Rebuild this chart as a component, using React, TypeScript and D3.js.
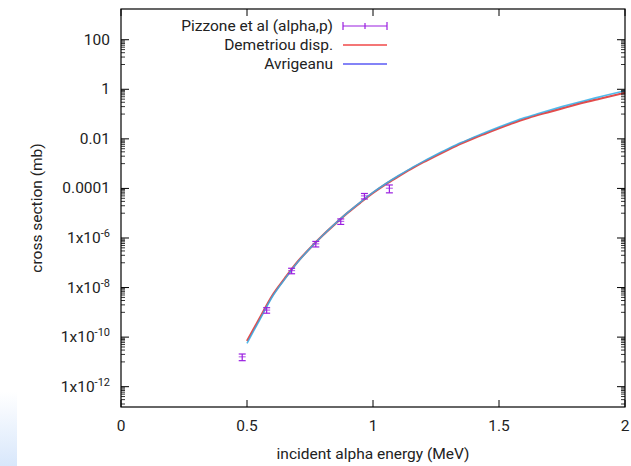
import React from "react";
import * as d3 from "d3";

// ---- data ----
const expEnergy = [0.481, 0.578, 0.677, 0.773, 0.872, 0.966, 1.065];
const expSigma = [1.6e-11, 1.23e-9, 4.8e-8, 5.8e-7, 4.7e-6, 5.0e-5, 1.02e-4];
const expErrFrac = [0.3, 0.25, 0.25, 0.25, 0.25, 0.25, 0.35];

const curveEnergy = [
  0.5, 0.55, 0.6, 0.65, 0.7, 0.75, 0.8, 0.85, 0.9, 0.95, 1.0, 1.05, 1.1, 1.15,
  1.2, 1.25, 1.3, 1.35, 1.4, 1.45, 1.5, 1.55, 1.6, 1.65, 1.7, 1.75, 1.8, 1.85,
  1.9, 1.95, 2.0,
];
// log10 of cross section (mb)
const avrigeanuLog = [
  -10.25, -9.31, -8.38, -7.66, -6.99, -6.42, -5.9, -5.42, -4.97, -4.55, -4.16,
  -3.81, -3.49, -3.19, -2.91, -2.64, -2.39, -2.15, -1.93, -1.72, -1.52, -1.33,
  -1.15, -0.995, -0.845, -0.7, -0.56, -0.43, -0.305, -0.18, -0.06,
];
const demetriouLog = [
  -10.16, -9.24, -8.33, -7.63, -6.97, -6.41, -5.9, -5.43, -4.98, -4.57, -4.18,
  -3.83, -3.52, -3.22, -2.94, -2.68, -2.43, -2.19, -1.97, -1.77, -1.57, -1.38,
  -1.21, -1.05, -0.91, -0.77, -0.63, -0.5, -0.38, -0.26, -0.14,
];

const xTicks = [0, 0.5, 1, 1.5, 2];
const yTickExps = [2, 0, -2, -4, -6, -8, -10, -12];
const yTickLabels = ["100", "1", "0.01", "0.0001", "1x10|-6", "1x10|-8", "1x10|-10", "1x10|-12"];

const legendLabels = ["Pizzone et al (alpha,p)", "Demetriou disp.", "Avrigeanu"];

const W = 631;
const H = 466;
const left = 121;
const right = 625;
const top = 9;
const bottom = 407;
const FONT = "Roboto, 'Noto Sans', sans-serif";
const FS = 15.5;
const PURPLE = "#9a1ee0";

export default function App() {
  const x = d3.scaleLinear().domain([0, 2]).range([left, right]);
  const y = d3.scaleLog().domain([Math.pow(10, -12.82), Math.pow(10, 3.24)]).range([bottom, top]);

  const line = d3
    .line<[number, number]>()
    .x((d) => x(d[0]))
    .y((d) => y(Math.pow(10, d[1])))
    .curve(d3.curveMonotoneX);

  const avr = curveEnergy.map((e, i) => [e, avrigeanuLog[i]] as [number, number]);
  const dem = curveEnergy.map((e, i) => [e, demetriouLog[i]] as [number, number]);

  // minor ticks: major * k/10
  const minor: number[] = [];
  yTickExps.forEach((ex) => {
    for (let k = 1; k <= 9; k++) {
      const v = (Math.pow(10, ex) * k) / 10;
      if (y(v) <= bottom && y(v) >= top) minor.push(v);
    }
  });

  return (
    <svg width={W} height={H} style={{ position: "fixed", left: 0, top: 0, background: "#fff" }}>
      <defs>
        <linearGradient id="bl" x1="0" y1="0" x2="0" y2="1">
          <stop offset="0" stopColor="#ffffff" />
          <stop offset="1" stopColor="#d8e7fb" />
        </linearGradient>
      </defs>
      <rect x={0} y={0} width={W} height={H} fill="#fff" />
      <rect x={0} y={392} width={17} height={74} fill="url(#bl)" />

      {/* curves */}
      <path d={line(dem) || ""} fill="none" stroke="#e03838" strokeWidth={2.2} strokeOpacity={0.9} />
      <path d={line(avr) || ""} fill="none" stroke="#35aee8" strokeWidth={1.6} strokeOpacity={0.85} />

      {/* data points with error bars */}
      {expEnergy.map((e, i) => {
        const cx = x(e);
        const s = expSigma[i];
        const y1 = y(s * (1 + expErrFrac[i]));
        const y0 = y(s * (1 - expErrFrac[i]));
        return (
          <g key={i} stroke={PURPLE} strokeWidth={1.2}>
            <line x1={cx} x2={cx} y1={y1} y2={y0} />
            <line x1={cx - 3.5} x2={cx + 3.5} y1={y1} y2={y1} />
            <line x1={cx - 3.5} x2={cx + 3.5} y1={y0} y2={y0} />
            <line x1={cx - 3.5} x2={cx + 3.5} y1={y(s)} y2={y(s)} strokeWidth={0.8} />
          </g>
        );
      })}

      {/* frame */}
      <rect x={left} y={top} width={right - left} height={bottom - top} fill="none" stroke="#000" strokeWidth={1.2} />

      {/* x ticks */}
      {xTicks.map((t) => (
        <g key={t}>
          <line x1={x(t)} x2={x(t)} y1={bottom} y2={bottom - 7} stroke="#000" />
          <line x1={x(t)} x2={x(t)} y1={top} y2={top + 7} stroke="#000" />
          <text x={x(t)} y={bottom + 24} textAnchor="middle" fontFamily={FONT} fontSize={FS} fill="#222">
            {String(t)}
          </text>
        </g>
      ))}

      {/* y ticks */}
      {yTickExps.map((ex, i) => {
        const yy = y(Math.pow(10, ex));
        const parts = yTickLabels[i].split("|");
        return (
          <g key={ex}>
            <line x1={left} x2={left + 8} y1={yy} y2={yy} stroke="#000" />
            <line x1={right} x2={right - 8} y1={yy} y2={yy} stroke="#000" />
            <text x={110} y={yy + 5} textAnchor="end" fontFamily={FONT} fontSize={FS} fill="#222">
              {parts.length === 1 ? (
                parts[0]
              ) : (
                <>
                  <tspan>{parts[0]}</tspan>
                  <tspan dy={-6} fontSize={11}>{parts[1]}</tspan>
                </>
              )}
            </text>
          </g>
        );
      })}
      {minor.map((v, i) => (
        <g key={"m" + i}>
          <line x1={left} x2={left + 4} y1={y(v)} y2={y(v)} stroke="#000" strokeWidth={0.8} />
          <line x1={right} x2={right - 4} y1={y(v)} y2={y(v)} stroke="#000" strokeWidth={0.8} />
        </g>
      ))}

      {/* axis titles */}
      <text x={373} y={459} textAnchor="middle" fontFamily={FONT} fontSize={FS} fill="#222">
        incident alpha energy (MeV)
      </text>
      <text
        transform={`translate(42, ${(top + bottom) / 2}) rotate(-90)`}
        textAnchor="middle"
        fontFamily={FONT}
        fontSize={FS}
        fill="#222"
      >
        cross section (mb)
      </text>

      {/* legend */}
      {legendLabels.map((lab, i) => {
        const ly = 26 + i * 19;
        return (
          <g key={lab}>
            <text x={333} y={ly + 5} textAnchor="end" fontFamily={FONT} fontSize={FS} fill="#222">
              {lab}
            </text>
            {i === 0 ? (
              <g stroke={PURPLE} strokeWidth={1.2}>
                <line x1={343} x2={387} y1={ly} y2={ly} />
                <line x1={343} x2={343} y1={ly - 4} y2={ly + 4} />
                <line x1={387} x2={387} y1={ly - 4} y2={ly + 4} />
                <line x1={365} x2={365} y1={ly - 3} y2={ly + 3} />
              </g>
            ) : (
              <line x1={343} x2={387} y1={ly} y2={ly} stroke={i === 1 ? "#f04848" : "#5a5af5"} strokeWidth={1.5} />
            )}
          </g>
        );
      })}
    </svg>
  );
}
